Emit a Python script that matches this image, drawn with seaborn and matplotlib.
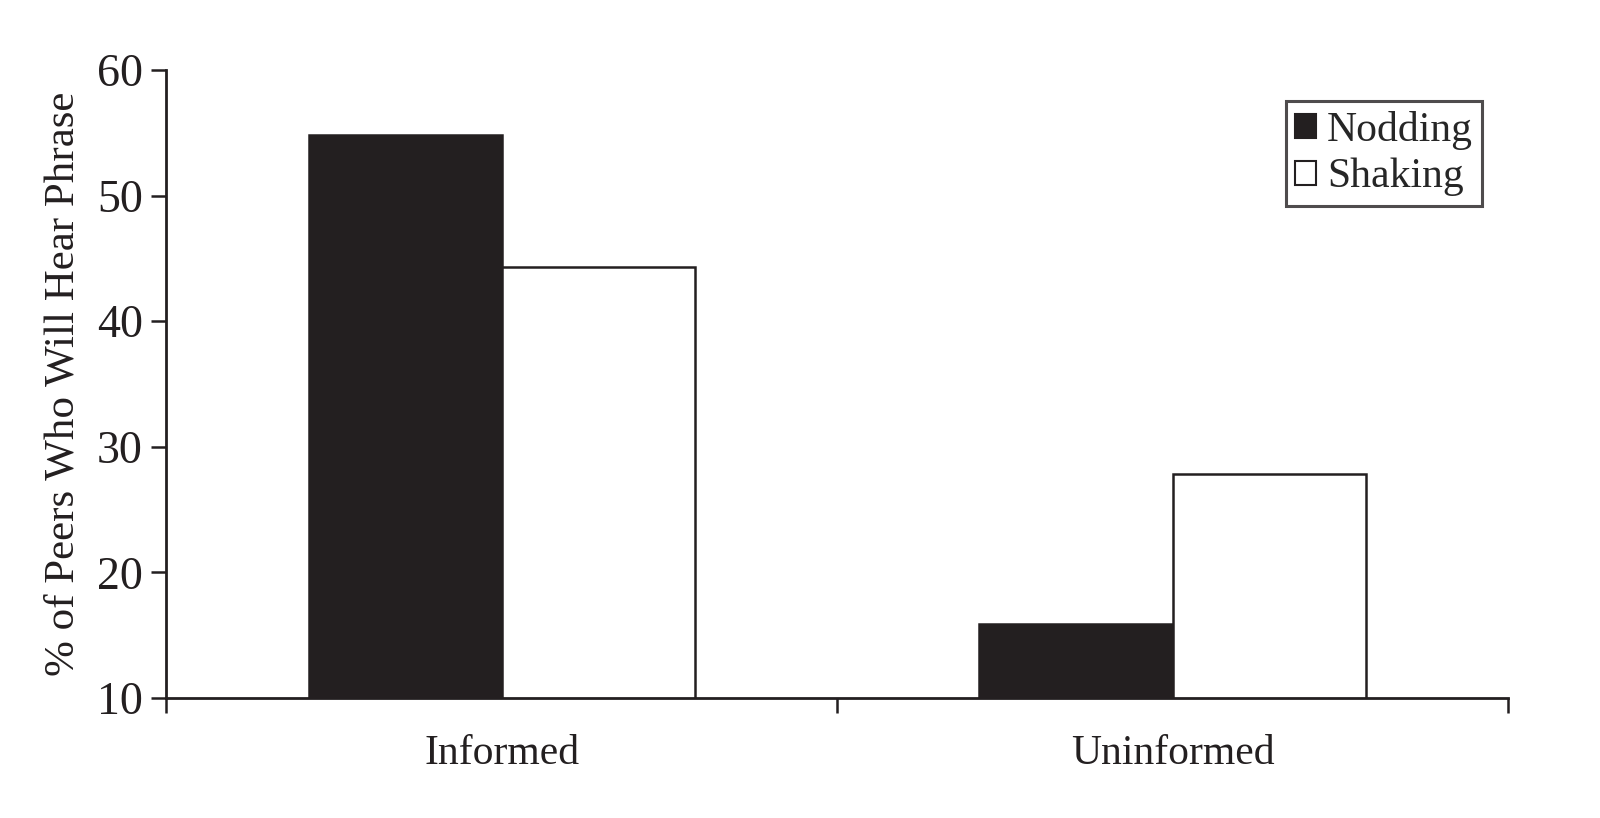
import matplotlib
matplotlib.use("Agg")
import matplotlib.pyplot as plt
import seaborn as sns
import pandas as pd
from matplotlib.patches import Patch

conditions = ["Informed", "Uninformed"]
gestures = ["Nodding", "Shaking"]
nodding = [54.8, 15.9]
shaking = [44.3, 27.8]
yticks = [10, 20, 30, 40, 50, 60]

df = pd.DataFrame({
    "condition": conditions * 2,
    "gesture": [gestures[0]] * 2 + [gestures[1]] * 2,
    "value": nodding + shaking,
})

sns.set_style("white")
plt.rcParams["font.family"] = ["Liberation Serif", "DejaVu Serif"]

fig = plt.figure(figsize=(16, 8.18), dpi=100)
ax = fig.add_axes([0.104, 0.1467, 0.8385, 0.7677])

colors = {"Nodding": "#231f20", "Shaking": "#ffffff"}
sns.barplot(data=df, x="condition", y="value", hue="gesture", order=conditions,
            hue_order=gestures, palette=colors, width=0.576, edgecolor="#231f20",
            linewidth=1.8, ax=ax, legend=False, saturation=1)

ax.set_ylim(10, 60)
ax.set_xlim(-0.5, 1.5)
ax.set_yticks(yticks)
ax.set_yticklabels([str(t) for t in yticks], fontsize=33)
ax.set_xticks([-0.5, 0.5, 1.5])
ax.set_xticklabels(["", "", ""])
ax.set_xticks([0, 1], minor=True)
ax.set_xticklabels(conditions, minor=True, fontsize=30)
ax.tick_params(axis="x", which="minor", bottom=True, length=0, pad=26)
ax.tick_params(axis="x", which="major", bottom=True, direction="out", length=11, width=1.8, color="#231f20")
ax.tick_params(axis="y", left=True, direction="out", length=11, width=1.8, color="#231f20", pad=6)
for s in ["top", "right"]:
    ax.spines[s].set_visible(False)
for s in ["left", "bottom"]:
    ax.spines[s].set_color("#231f20")
    ax.spines[s].set_linewidth(2)
ax.set_xlabel("")
ax.set_ylabel("% of Peers Who Will Hear Phrase", fontsize=31, labelpad=10, color="#231f20")

handles = [Patch(facecolor=colors[g], edgecolor="#231f20", linewidth=1.5, label=g) for g in gestures]
leg = ax.legend(handles=handles, loc="upper right", bbox_to_anchor=(0.9805, 0.95),
                fontsize=30, frameon=True, fancybox=False, handlelength=0.52,
                handleheight=0.52, handletextpad=0.25, borderpad=0.22, labelspacing=0.2,
                borderaxespad=0)
leg.get_frame().set_edgecolor("#231f20")
leg.get_frame().set_linewidth(2.2)
for t in ax.get_yticklabels() + ax.get_xticklabels(minor=True):
    t.set_color("#231f20")

fig.savefig("out.png", dpi=100, facecolor="white")
